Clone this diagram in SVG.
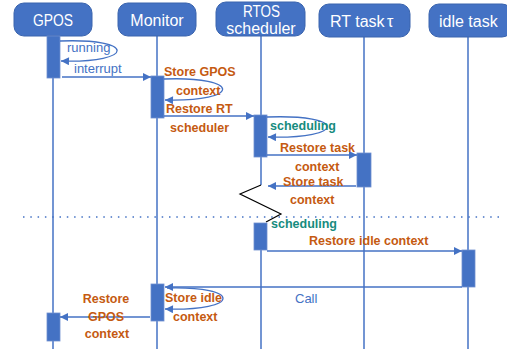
<svg xmlns="http://www.w3.org/2000/svg" width="507" height="349" viewBox="0 0 507 349">
<defs>
<style>
.hdr{fill:#4472C4;stroke:#3A64AE;stroke-width:1}
.ht{fill:#fff;font-family:"Liberation Sans",Arial,sans-serif;font-size:16px}
.life{stroke:#4472C4;stroke-width:1.5;fill:none}
.act{fill:#4472C4;stroke:#6F8FD0;stroke-width:0.8}
.msg{stroke:#4472C4;stroke-width:1.3;fill:none}
.bl{fill:#4472C4;font-family:"Liberation Sans",Arial,sans-serif;font-size:13px}
.or{fill:#C55A11;font-family:"Liberation Sans",Arial,sans-serif;font-size:12.5px;font-weight:bold}
.tl{fill:#168B7E;font-family:"Liberation Sans",Arial,sans-serif;font-size:12.5px;font-weight:bold}
</style>
<marker id="ah" viewBox="0 0 10 10" refX="10" refY="5" markerWidth="10" markerHeight="8" markerUnits="userSpaceOnUse" orient="auto">
<path d="M0,0 L10,5 L0,10 z" fill="#4472C4"/>
</marker>
</defs>
<rect width="507" height="349" fill="#fff"/>

<g id="lifelines">
<line class="life" x1="53" y1="36" x2="53" y2="349"/>
<line class="life" x1="157" y1="36" x2="157" y2="349"/>
<line class="life" x1="261" y1="36" x2="261" y2="185"/>
<line class="life" x1="261" y1="250" x2="261" y2="349"/>
<line class="life" x1="364" y1="37" x2="364" y2="349"/>
<line class="life" x1="468" y1="37" x2="468" y2="349"/>
</g>

<g id="separator">
<line x1="23" y1="217" x2="503" y2="217" stroke="#4472C4" stroke-width="1.5" stroke-dasharray="1.5 5.8"/>
<polyline points="261,185 240,194 281,214 266,222" fill="none" stroke="#000" stroke-width="1.2"/>
</g>

<g id="gpos">
<rect class="hdr" x="14" y="3" width="78" height="33" rx="10"/>
<text class="ht" x="33" y="26" textLength="40" lengthAdjust="spacingAndGlyphs">GPOS</text>
</g>
<g id="monitor">
<rect class="hdr" x="118" y="3" width="78" height="33" rx="10"/>
<text class="ht" x="157" y="26" text-anchor="middle">Monitor</text>
</g>
<g id="rtos">
<rect class="hdr" x="216" y="2" width="89" height="34" rx="10"/>
<text class="ht" x="243" y="17" textLength="37" lengthAdjust="spacingAndGlyphs">RTOS</text>
<text class="ht" x="261" y="34" text-anchor="middle">scheduler</text>
</g>
<g id="rttask">
<rect class="hdr" x="319" y="4" width="91" height="33" rx="10"/>
<text class="ht" x="330" y="27">RT task<tspan x="387">τ</tspan></text>
</g>
<g id="idletask">
<rect class="hdr" x="429" y="4" width="83" height="33" rx="10"/>
<text class="ht" x="439" y="27">idle task</text>
</g>

<g id="activations">
<rect class="act" x="47" y="36" width="13" height="42"/>
<rect class="act" x="151" y="76" width="13" height="42"/>
<rect class="act" x="254" y="115" width="13" height="42"/>
<rect class="act" x="357" y="153" width="14" height="34"/>
<rect class="act" x="254" y="223" width="13" height="27"/>
<rect class="act" x="462" y="250" width="13" height="37"/>
<rect class="act" x="151" y="284" width="13" height="37"/>
<rect class="act" x="47" y="313" width="13" height="28"/>
</g>

<g id="connectors">
<path class="msg" d="M60,41 C136,38 136,63 61,61" marker-end="url(#ah)"/>
<line class="msg" x1="62" y1="77" x2="151" y2="77" marker-end="url(#ah)"/>
<path class="msg" d="M164,79 C242,76 242,102 165,100" marker-end="url(#ah)"/>
<line class="msg" x1="164" y1="116" x2="254" y2="116" marker-end="url(#ah)"/>
<path class="msg" d="M267,117 C347,114 347,139 268,137" marker-end="url(#ah)"/>
<line class="msg" x1="267" y1="155" x2="357" y2="155" marker-end="url(#ah)"/>
<line class="msg" x1="356" y1="186" x2="268" y2="186" marker-end="url(#ah)"/>
<line class="msg" x1="267" y1="251" x2="462" y2="251" marker-end="url(#ah)"/>
<line class="msg" x1="462" y1="287" x2="165" y2="287" marker-end="url(#ah)"/>
<path class="msg" d="M167,288 C242,286 242,311 165,309" marker-end="url(#ah)"/>
<line class="msg" x1="150" y1="317" x2="60" y2="317" marker-end="url(#ah)"/>
</g>

<g id="labels">
<text class="bl" x="67" y="52">running</text>
<text class="bl" x="74" y="73">interrupt</text>
<text class="or" x="164" y="76">Store GPOS</text>
<text class="or" x="176" y="95">context</text>
<text class="or" x="166" y="113">Restore RT</text>
<text class="or" x="170" y="132">scheduler</text>
<text class="tl" x="270" y="130">scheduling</text>
<text class="or" x="280" y="152">Restore task</text>
<text class="or" x="295" y="171">context</text>
<text class="or" x="283" y="186">Store task</text>
<text class="or" x="290" y="204">context</text>
<text class="tl" x="271" y="228">scheduling</text>
<text class="or" x="309" y="245">Restore idle context</text>
<text class="bl" x="295" y="303">Call</text>
<text class="or" x="165" y="302">Store idle</text>
<text class="or" x="173" y="321">context</text>
<text class="or" x="106" y="303" text-anchor="middle">Restore</text>
<text class="or" x="106" y="321" text-anchor="middle">GPOS</text>
<text class="or" x="107" y="338" text-anchor="middle">context</text>
</g>
</svg>
